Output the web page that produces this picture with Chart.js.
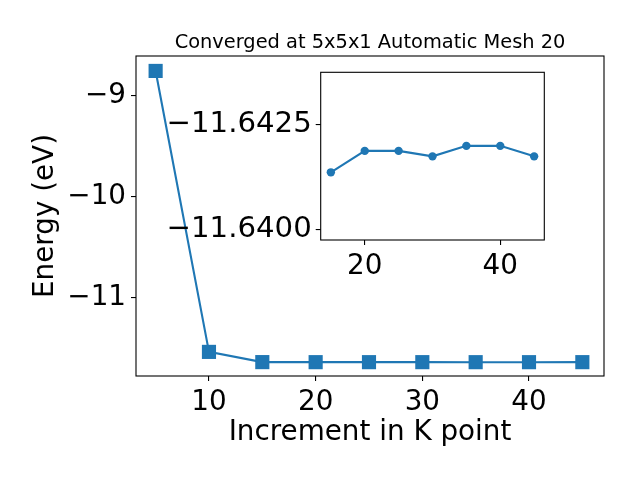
<!DOCTYPE html>
<html><head><meta charset="utf-8">
<script src="https://cdn.jsdelivr.net/npm/chart.js@4/dist/chart.umd.min.js"></script>
<style>
html,body{margin:0;padding:0;background:#fff;}
#wrap{position:relative;width:640px;height:480px;overflow:hidden;}
canvas{position:absolute;}
</style>
</head><body>
<div id="wrap">
<canvas id="main" width="640" height="480" style="left:0;top:0"></canvas>
<canvas id="inset" width="410" height="250" style="left:150px;top:40px"></canvas>
</div>
<script>
// ---- data ----
const kPoints = [5, 10, 15, 20, 25, 30, 35, 40, 45];
const energies = [-8.755, -11.54, -11.64137, -11.64188, -11.64188, -11.64175, -11.64200, -11.64200, -11.64175];
const insetK = [15, 20, 25, 30, 35, 40, 45];
const insetEnergies = [-11.64137, -11.64188, -11.64188, -11.64175, -11.64200, -11.64200, -11.64175];
const mainXTicks = [10, 20, 30, 40];
const mainYTicks = [-9, -10, -11];
const insetXTicks = [20, 40];
const insetYTicks = [-11.6425, -11.6400];
const titleText = 'Converged at 5x5x1 Automatic Mesh 20';
const xTitle = 'Increment in K point';
const yTitle = 'Energy (eV)';

Chart.defaults.font.family = "'DejaVu Sans', sans-serif";
Chart.defaults.color = '#000';
const BLUE = '#1f77b4';
const FS = 27.8;

function fmtInt(v){ return (v < 0 ? '\u2212' : '') + Math.abs(v); }
function fmt4(v){ return (v < 0 ? '\u2212' : '') + Math.abs(v).toFixed(4); }

const frame = {
  id: 'frame',
  beforeDatasetsDraw(chart, args, opts){
    if (opts.fill) {
      const a = chart.chartArea, c = chart.ctx;
      c.save(); c.fillStyle = '#fff'; c.fillRect(a.left, a.top, a.right - a.left, a.bottom - a.top); c.restore();
    }
  },
  afterDatasetsDraw(chart){
    const a = chart.chartArea, c = chart.ctx;
    c.save(); c.strokeStyle = '#000'; c.lineWidth = 1.1;
    c.strokeRect(a.left, a.top, a.right - a.left, a.bottom - a.top); c.restore();
  }
};
const titlePlugin = {
  id: 'ttl',
  afterDraw(chart, args, opts){
    if (!opts.text) return;
    const c = chart.ctx, a = chart.chartArea;
    c.save(); c.fillStyle = '#000'; c.font = "19.4px 'DejaVu Sans'";
    c.textAlign = 'center'; c.textBaseline = 'alphabetic';
    c.fillText(opts.text, (a.left + a.right) / 2, a.top - 8);
    c.restore();
  }
};

function axisCommon(ticksArr, fmt, fitProp, fitVal, fs){
  return {
    type: 'linear',
    afterBuildTicks: s => { s.ticks = ticksArr.map(v => ({value: v})); },
    afterFit: s => { s[fitProp] = fitVal; },
    grid: {drawOnChartArea: false, tickLength: 5, tickColor: '#000', tickWidth: 1.1, lineWidth: 1.1},
    border: {display: false},
    ticks: {color: '#000', font: {size: fs || FS}, padding: 5, maxRotation: 0, autoSkip: false, callback: v => fmt(v)}
  };
}

const mx = axisCommon(mainXTicks, fmtInt, 'height', 104);
mx.min = 3.16; mx.max = 47.03;
mx.title = {display: true, text: xTitle, color: '#000', font: {size: FS}, padding: {top: 0, bottom: 31}};
const my = axisCommon(mainYTicks, fmtInt, 'width', 136);
my.min = -11.779; my.max = -8.607;
my.title = {display: true, text: yTitle, color: '#000', font: {size: FS}, padding: {top: 29, bottom: 0}};

new Chart(document.getElementById('main'), {
  type: 'line',
  data: {
    labels: kPoints,
    datasets: [{
      data: kPoints.map((k, i) => ({x: k, y: energies[i]})),
      borderColor: BLUE, backgroundColor: BLUE, borderWidth: 2.1,
      pointStyle: 'rect', pointRadius: 10, pointBorderWidth: 0, pointBackgroundColor: BLUE,
      tension: 0, fill: false
    }]
  },
  options: {
    responsive: false, animation: false, devicePixelRatio: 1,
    layout: {padding: {left: 0, right: 36, top: 56, bottom: 0}},
    plugins: {legend: {display: false}, tooltip: {enabled: false}, ttl: {text: titleText}, frame: {fill: false}},
    scales: {x: mx, y: my}
  },
  plugins: [frame, titlePlugin]
});

const ix = axisCommon(insetXTicks, fmtInt, 'height', 50);
ix.min = 13.5; ix.max = 46.5;
const iy = axisCommon(insetYTicks, fmt4, 'width', 170.7, 29.2);
iy.min = -11.64375; iy.max = -11.63976; iy.reverse = true;
iy.ticks.padding = 4;

new Chart(document.getElementById('inset'), {
  type: 'line',
  data: {
    labels: insetK,
    datasets: [{
      data: insetK.map((k, i) => ({x: k, y: insetEnergies[i]})),
      borderColor: BLUE, backgroundColor: BLUE, borderWidth: 2.1,
      pointStyle: 'circle', pointRadius: 4.2, pointBorderWidth: 0, pointBackgroundColor: BLUE,
      tension: 0, fill: false
    }]
  },
  options: {
    responsive: false, animation: false, devicePixelRatio: 1,
    layout: {padding: {left: 0, right: 15.7, top: 32.3, bottom: 0}},
    plugins: {legend: {display: false}, tooltip: {enabled: false}, ttl: {text: ''}, frame: {fill: true}},
    scales: {x: ix, y: iy}
  },
  plugins: [frame, titlePlugin]
});
</script>
</body></html>
